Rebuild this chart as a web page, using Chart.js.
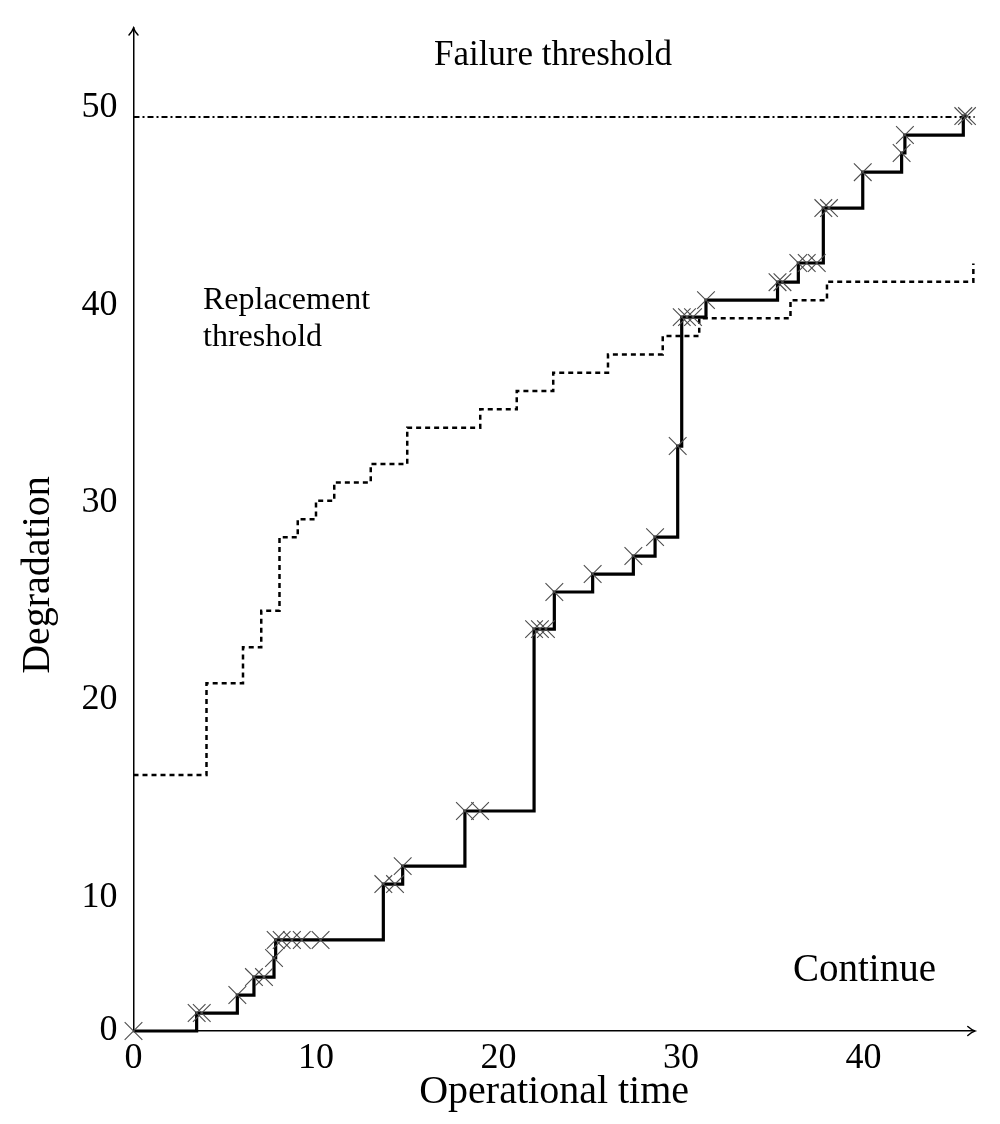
<!DOCTYPE html>
<html>
<head>
<meta charset="utf-8">
<script src="https://cdn.jsdelivr.net/npm/chart.js@4/dist/chart.umd.min.js"></script>
<style>
  html, body { margin: 0; padding: 0; background: #ffffff; }
  #wrap { width: 1000px; height: 1124px; }
</style>
</head>
<body>
<div id="wrap"><canvas id="c" width="1000" height="1124"></canvas></div>
<script>
// ---- Data ----
// Degradation path (solid line), event times and levels
const degradationTimes = [0, 3.46, 3.74, 5.69, 6.60, 7.15, 7.70, 7.79, 8.12, 8.68, 9.22, 10.25,
  13.69, 14.33, 14.75, 18.16, 18.99, 21.95, 22.27, 22.60, 23.06, 25.16, 27.39, 28.58, 29.82,
  30.04, 30.33, 30.66, 31.37, 35.29, 35.56, 36.43, 36.89, 37.44, 37.80, 38.11, 39.96, 42.09,
  42.27, 45.47, 45.67];
const degradationValues = [3.24, 4.15, 4.15, 5.06, 5.97, 5.97, 6.94, 7.85, 7.85, 7.85, 7.85, 7.85,
  10.68, 10.68, 11.59, 14.38, 14.38, 23.59, 23.59, 23.59, 25.47, 26.38, 27.29, 28.25, 32.86,
  39.39, 39.39, 39.39, 40.25, 41.16, 41.16, 42.13, 42.13, 42.13, 44.91, 44.91, 46.73, 47.70,
  48.61, 49.57, 49.57];
// Replacement threshold (dashed line)
const thresholdTimes = [0, 4, 6, 7, 8, 9, 10, 11, 13, 15, 19, 21, 23, 26, 29, 31, 36, 38, 46.02];
const thresholdValues = [16.20, 20.85, 22.67, 24.52, 28.24, 29.16, 30.09, 31.02, 31.95, 33.79,
  34.72, 35.65, 36.57, 37.50, 38.43, 39.33, 40.25, 41.18, 42.11];
// Failure threshold (dash-dot line)
const failureTimes = [0, 46.1];
const failureValues = [49.52, 49.52];
// Axis ticks
const xTickValues = [0, 10, 20, 30, 40];
const yTickValues = [3.24, 10, 20, 30, 40, 50];
const yTickLabels = ['0', '10', '20', '30', '40', '50'];
const xRange = [0, 46.1];
const yRange = [3.24, 54.03];

// ---- Chart ----
const serif = '"Liberation Serif", "DejaVu Serif", serif';
const toPts = (xs, ys) => xs.map((x, i) => ({ x: x, y: ys[i] }));

const annotations = {
  id: 'annotations',
  afterDraw(chart) {
    const ctx = chart.ctx;
    const a = chart.chartArea;
    ctx.save();
    // arrow heads on axes
    ctx.strokeStyle = '#000';
    ctx.lineWidth = 1.5;
    ctx.lineCap = 'round';
    ctx.beginPath();
    ctx.moveTo(a.left - 4.5, a.top + 7);
    ctx.quadraticCurveTo(a.left - 1, a.top + 3, a.left, a.top);
    ctx.quadraticCurveTo(a.left + 1, a.top + 3, a.left + 4.5, a.top + 7);
    ctx.moveTo(a.right - 7, a.bottom - 4.5);
    ctx.quadraticCurveTo(a.right - 3, a.bottom - 1, a.right, a.bottom);
    ctx.quadraticCurveTo(a.right - 3, a.bottom + 1, a.right - 7, a.bottom + 4.5);
    ctx.stroke();
    // text labels
    ctx.fillStyle = '#000';
    ctx.textBaseline = 'middle';
    ctx.font = '35px ' + serif;
    ctx.textAlign = 'center';
    ctx.fillText('Failure threshold', 553, 56);
    ctx.textAlign = 'left';
    ctx.font = '32px ' + serif;
    ctx.fillText('Replacement', 203, 301);
    ctx.fillText('threshold', 203, 338);
    ctx.font = '39px ' + serif;
    ctx.fillText('Continue', 793, 971);
    ctx.translate(38, 575);
    ctx.rotate(-Math.PI / 2);
    ctx.textAlign = 'center';
    ctx.font = '40px ' + serif;
    ctx.fillText('Degradation', 0, 0);
    ctx.restore();
  }
};

new Chart(document.getElementById('c'), {
  type: 'line',
  data: {
    datasets: [
      {
        label: 'Degradation',
        data: toPts(degradationTimes, degradationValues),
        stepped: 'before',
        borderColor: '#000',
        borderWidth: 3.2,
        pointStyle: 'crossRot',
        pointRadius: 12.5,
        pointBorderColor: '#4d4d4d',
        pointBorderWidth: 1.1,
        pointBackgroundColor: 'transparent',
        fill: false,
        clip: false
      },
      {
        label: 'Replacement threshold',
        data: toPts(thresholdTimes, thresholdValues),
        stepped: 'before',
        borderColor: '#000',
        borderWidth: 2.5,
        borderDash: [5, 4],
        pointRadius: 0,
        fill: false,
        clip: false
      },
      {
        label: 'Failure threshold',
        data: toPts(failureTimes, failureValues),
        borderColor: '#000',
        borderWidth: 2,
        borderDash: [6, 3, 2, 3],
        pointRadius: 0,
        fill: false
      }
    ]
  },
  options: {
    responsive: false,
    animation: false,
    devicePixelRatio: 1,
    layout: { padding: { left: 0, right: 25.2, top: 28, bottom: 0 } },
    plugins: { legend: { display: false }, tooltip: { enabled: false }, title: { display: false } },
    scales: {
      x: {
        type: 'linear',
        min: xRange[0],
        max: xRange[1],
        afterBuildTicks: s => { s.ticks = xTickValues.map(v => ({ value: v })); },
        afterFit: s => { s.height = 93; s.paddingLeft = 0; s.paddingRight = 0; },
        grid: { display: false, drawTicks: false },
        border: { display: true, color: '#000', width: 1.5 },
        ticks: { color: '#000', font: { family: serif, size: 36 }, padding: 6, maxRotation: 0,
                 callback: v => String(v) },
        title: { display: true, text: 'Operational time', color: '#000',
                 font: { family: serif, size: 40 }, padding: { top: 0, bottom: 8 } }
      },
      y: {
        type: 'linear',
        min: yRange[0],
        max: yRange[1],
        afterBuildTicks: s => { s.ticks = yTickValues.map(v => ({ value: v })); },
        afterFit: s => { s.width = 133.5; s.paddingTop = 0; s.paddingBottom = 0; },
        grid: { display: false, drawTicks: false },
        border: { display: true, color: '#000', width: 1.5 },
        ticks: { color: '#000', font: { family: serif, size: 36 }, padding: 16,
                 callback: (v, i) => yTickLabels[i] }
      }
    }
  },
  plugins: [annotations]
});
</script>
</body>
</html>
